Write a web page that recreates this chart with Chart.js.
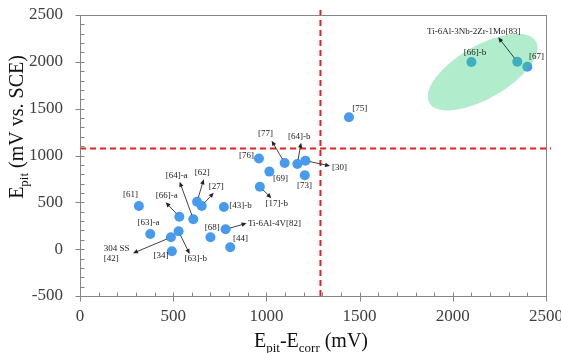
<!DOCTYPE html>
<html><head><meta charset="utf-8">
<script src="https://cdn.jsdelivr.net/npm/chart.js@4.4.0/dist/chart.umd.min.js"></script>
<style>
html,body{margin:0;padding:0;overflow:hidden;background:#fff;width:561px;height:353px}
#wrap{width:580px;height:353px}
canvas{display:block}
</style></head>
<body><div id="wrap"><canvas id="c" width="580" height="353"></canvas></div>
<script>
// ---- data ----
const pointLabels = ['[61]','[63]-a','[66]-a','[64]-a','[62]','[27]','[43]-b','[63]-b','304 SS\n[42]','[34]','[68]','Ti-6Al-4V[82]','[44]','[76]','[69]','[17]-b','[75]','[77]','[64]-b','[30]','[73]','[66]-b','Ti-6Al-3Nb-2Zr-1Mo[83]','[67]'];
const ePitMinusEcorr = [316,377,533,608,628,653,772,529,488,493,700,781,806,960,1016,965,1443,1098,1166,1209,1206,2100,2346,2400];
const ePit = [461,162,347,319,507,461,450,191,127,-22,127,212,20,968,828,667,1408,920,909,945,789,1998,2001,1948];
const xTicks = [0,500,1000,1500,2000,2500];
const yTicks = [-500,0,500,1000,1500,2000,2500];
const xThreshold = 1290;
const yThreshold = 1075;
const clusterCenter = {x: 2160, y: 1890};

// ---- layout of annotations (pixel offsets from each point) ----
const labelLayout = [
  {t:[-16,-8.5]},
  {t:[-12.7,-8.5]},
  {t:[-23.7,-18.2], a:[-13.7,-14.4]},
  {t:[-27.7,-40.8], a:[-13.7,-37.6]},
  {t:[-2.3,-26.2], a:[6.7,-22.4]},
  {t:[7,-16.5], a:[12,-13.3]},
  {t:[5.3,1]},
  {t:[6,30.2], a:[11,22.7]},
  {t:[-67.3,14.2], a:[-38,16]},
  {t:[-18.3,7.2]},
  {t:[-5.7,-6.8]},
  {t:[22.3,-3.3], a:[21,-6]},
  {t:[2.7,-5.8]},
  {t:[-20,-0.5]},
  {t:[3.7,9]},
  {t:[5.7,19.3], a:[11.5,11.5]},
  {t:[3.3,-5.8]},
  {t:[-26.7,-26.5], a:[-13,-22.3]},
  {t:[-9.3,-25.5], a:[3.7,-21.3]},
  {t:[26.7,9.8], a:[24.7,5.3]},
  {t:[-7.7,13.2]},
  {t:[-7.7,-7.5]},
  {t:[-90.3,-28.2], a:[-19,-24.4]},
  {t:[1.7,-8.2]}
];

const SERIF = "'Liberation Serif','Times New Roman',serif";
const points = ePitMinusEcorr.map((x,i)=>({x:x, y:ePit[i]}));

function arrow(ctx, x1, y1, x2, y2){
  const ang = Math.atan2(y2-y1, x2-x1);
  const sx = x1 + Math.cos(ang)*4.5, sy = y1 + Math.sin(ang)*4.5;
  ctx.beginPath(); ctx.moveTo(sx, sy); ctx.lineTo(x2 - Math.cos(ang)*3, y2 - Math.sin(ang)*3); ctx.stroke();
  ctx.beginPath();
  ctx.moveTo(x2, y2);
  ctx.lineTo(x2 - 5*Math.cos(ang) + 2.2*Math.sin(ang), y2 - 5*Math.sin(ang) - 2.2*Math.cos(ang));
  ctx.lineTo(x2 - 5*Math.cos(ang) - 2.2*Math.sin(ang), y2 - 5*Math.sin(ang) + 2.2*Math.cos(ang));
  ctx.closePath(); ctx.fill();
}

const decor = {
  id: 'decor',
  beforeDatasetsDraw(chart){
    const {ctx, chartArea:a, scales:{x, y}} = chart;
    ctx.save();
    ctx.strokeStyle = 'rgb(232,30,30)';
    ctx.lineWidth = 2;
    ctx.setLineDash([6,4]);
    const vx = x.getPixelForValue(xThreshold);
    ctx.beginPath(); ctx.moveTo(vx, a.top - 5); ctx.lineTo(vx, a.bottom); ctx.stroke();
    const hy = y.getPixelForValue(yThreshold);
    ctx.beginPath(); ctx.moveTo(a.left, hy); ctx.lineTo(a.right + 5, hy); ctx.stroke();
    ctx.restore();
  },
  afterDatasetsDraw(chart){
    const {ctx, chartArea:a, scales:{x, y}} = chart;
    ctx.save();
    // cluster ellipse
    ctx.fillStyle = 'rgba(50,205,120,0.38)';
    ctx.beginPath();
    ctx.ellipse(x.getPixelForValue(clusterCenter.x), y.getPixelForValue(clusterCenter.y), 61.5, 26.5, -Math.PI/6, 0, Math.PI*2);
    ctx.fill();
    // labels and arrows
    ctx.font = '9px ' + SERIF;
    ctx.fillStyle = '#222';
    ctx.strokeStyle = '#111';
    ctx.lineWidth = 0.8;
    ctx.textAlign = 'left';
    ctx.textBaseline = 'alphabetic';
    points.forEach((p,i)=>{
      const px = x.getPixelForValue(p.x), py = y.getPixelForValue(p.y);
      const L = labelLayout[i];
      const lines = pointLabels[i].split('\n');
      lines.forEach((ln,k)=> ctx.fillText(ln, px + L.t[0], py + L.t[1] + k*10));
      if (L.a) arrow(ctx, px, py, px + L.a[0], py + L.a[1]);
    });
    ctx.restore();
  },
  afterDraw(chart){
    const {ctx, chartArea:a, scales:{x, y}} = chart;
    ctx.save();
    ctx.strokeStyle = '#858585';
    ctx.lineWidth = 1;
    ctx.setLineDash([]);
    const L = Math.round(a.left)+0.5, R = Math.round(a.right)+0.5, T = Math.round(a.top)+0.5, B = Math.round(a.bottom)+0.5;
    ctx.strokeRect(L, T, R-L, B-T);
    ctx.beginPath();
    for (let v = 0; v <= 2500; v += 100){
      const px = Math.round(x.getPixelForValue(v))+0.5;
      if (v % 500 === 0){ ctx.moveTo(px, B-4); ctx.lineTo(px, B+5); }
      else { ctx.moveTo(px, B-4); ctx.lineTo(px, B); }
    }
    for (let v = -500; v <= 2500; v += 100){
      const py = Math.round(y.getPixelForValue(v))+0.5;
      if (v % 500 === 0){ ctx.moveTo(L-5, py); ctx.lineTo(L+4, py); }
      else { ctx.moveTo(L, py); ctx.lineTo(L+4, py); }
    }
    ctx.stroke();
    // axis titles
    ctx.fillStyle = '#111';
    ctx.textBaseline = 'alphabetic';
    ctx.textAlign = 'left';
    function drawParts(parts, cx, cy){
      let w = 0;
      parts.forEach(p=>{ ctx.font = p[1] + 'px ' + SERIF; w += ctx.measureText(p[0]).width; });
      let cur = cx - w/2;
      parts.forEach(p=>{ ctx.font = p[1] + 'px ' + SERIF; ctx.fillText(p[0], cur, cy + p[2]); cur += ctx.measureText(p[0]).width; });
    }
    drawParts([['E',20,0],['pit',13,5],['-E',20,0],['corr',13,5],[' (mV)',20,0]], 311, 347);
    ctx.save();
    ctx.translate(23, 127);
    ctx.rotate(-Math.PI/2);
    drawParts([['E',20,0],['pit',13,5],[' (mV vs. SCE)',20,0]], 0, 0);
    ctx.restore();
    ctx.restore();
  }
};

new Chart(document.getElementById('c'), {
  type: 'scatter',
  data: { datasets: [{
    data: points,
    backgroundColor: 'rgb(70,155,238)',
    borderWidth: 0,
    pointRadius: 5,
    pointHoverRadius: 5
  }]},
  options: {
    responsive: false,
    animation: false,
    devicePixelRatio: 1,
    events: [],
    layout: { padding: { left: 0, top: 15, right: 34, bottom: 0 } },
    plugins: { legend: {display:false}, tooltip: {enabled:false} },
    scales: {
      x: {
        type: 'linear', min: 0, max: 2500,
        grid: { display: false, drawTicks: false },
        border: { display: false },
        afterBuildTicks: s => { s.ticks = xTicks.map(v=>({value:v})); },
        afterFit: s => { s.height = 57; s.paddingLeft = 0; s.paddingRight = 0; },
        ticks: { padding: 10, color: '#404040', font: { family: SERIF, size: 17 }, callback: v => String(v) }
      },
      y: {
        type: 'linear', min: -500, max: 2500,
        grid: { display: false, drawTicks: false },
        border: { display: false },
        afterBuildTicks: s => { s.ticks = yTicks.map(v=>({value:v})); },
        afterFit: s => { s.width = 80; s.paddingTop = 0; s.paddingBottom = 0; },
        ticks: { padding: 17, color: '#404040', font: { family: SERIF, size: 17 }, callback: v => String(v) }
      }
    }
  },
  plugins: [decor]
});
</script>
</body></html>
